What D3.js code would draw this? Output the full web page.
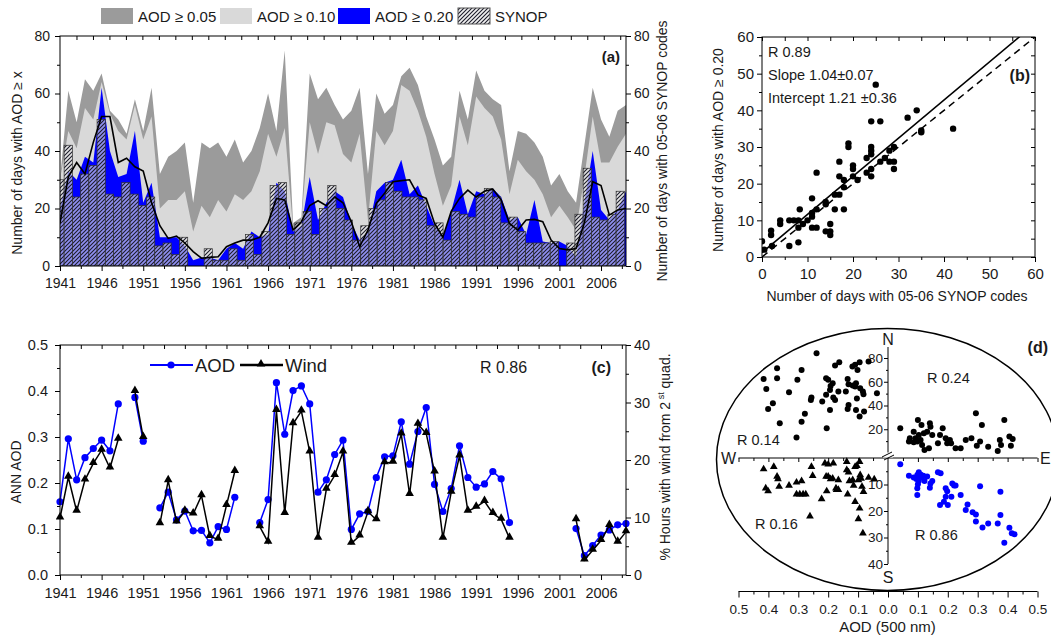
<!DOCTYPE html>
<html>
<head>
<meta charset="utf-8">
<script src="https://cdn.jsdelivr.net/npm/d3@7"></script>
<style>
  body { margin: 0; background: #fff; }
  text { font-family: 'Liberation Sans', Arial, sans-serif; }
</style>
</head>
<body>
<div id="chart"></div>
<script>
// ---------- data ----------
var years = d3.range(1941, 2010);

// panel (a): number of days with AOD >= x, and SYNOP days
var aod005 = [30,61,50,65,61,67,54,51,46,58, 47,62,32,38,40,43,22,43,41,43,
              38,44,36,40,48,60,47,75,15,17, 67,58,62,56,51,54,62,32,60,53,
              56,66,69,63,52,44,35,38,61,51, 68,61,58,56,33,47,46,43,38,28,
              32,26,22,42,62,51,45,54,56];
var aod010 = [30,47,41,55,51,64,53,47,44,56, 44,52,20,23,23,26,12,21,17,23,
              19,25,23,26,33,46,38,48,13,16, 50,39,50,49,39,36,46,16,47,42,
              47,63,61,54,45,32,21,28,52,42, 59,55,52,44,25,37,33,30,25,17,
              21,17,12.5,31,52,36,36,41.5,46];
var aod020 = [20,33,30,38,36,62,40,31,32,47, 22,29,10,10,10,7,2,3,3,2,
              6,8,6,12,10,11,29,26,12,14, 31,16,22,26,24,15,9,12,26,29,
              30,37,25,28,21,14,10,19,30,18, 26,25,27,24,16,17,11,23,8.5,8,
              8.5,7,3,22,40,19.5,16,19.5,26];
var synop  = [30,42,24,32,35,51,25,24,29,25, 21,24,7,8,4,10,0,0,6,2,
              2,6,2,11,4,12,28,29,11,15, 19,11,20,28,20,16,9,14,20,23,
              29,26,24,24,23,14,15,9,19,18, 17,24,27,24,15,17,12,8,8,8,
              8.5,0,8,18,34,17,16,18,26];
var smooth = [15,31,36,32,43,52,52,36,37.5,34.5, 33,22,14,9.6,10.4,8,5,2.7,3,3.2,
              6.7,8,9,9,10,15,23.5,23,12.5,15.4, 21,22.7,21,24,22,15.4,6.7,12.5,21.8,25.3,
              29.3,29.7,30,24.7,23.5,14.8,10,19,23.5,26.4, 24,26,26.7,23,14.8,12.5,16,16.2,15.4,9,
              6.1,5.6,6.1,15,29.3,28,17.7,19.5,20];
var yearTicks = [1941,1946,1951,1956,1961,1966,1971,1976,1981,1986,1991,1996,2001,2006];

// panel (b): scatter SYNOP days vs AOD>=0.20 days
var bx = [0,0.5,2,2,2.2, 4,4,6,6,7, 8,8.3,8,8,9, 10,11,11,11,11, 12,12,12,14,14,
          14,15,15,15,16, 16,17,17,17,18, 18,18,19,19,20, 20,20,21,23,23, 24,24,24,24,24,
          24,25,26,26,27, 28,28,29,29,29, 32,34,35,35,42];
var by = [4.3,2,7.2,6,3, 10,9,3,10,10, 10,13,8,4,9, 10,12,16,11,8, 13,23,8,15,7,
          14.4,7,9,6,17, 13,17,22,26,13, 21,19,31,30,25, 24,22,21,27,23, 37,30,29,28,24,
          22,47,37,26,27, 29,26,30,26,24, 38,40,34,34.5,35];

// panel (c): annual AOD and wind from 2nd quadrant (null = no data)
var annAod = [0.159,0.296,0.207,0.255,0.275,0.293,0.270,0.372,null,0.386,
              0.291,null,0.146,0.180,0.120,0.139,0.096,0.097,0.070,0.105,
              0.099,0.169,null,null,0.114,0.164,0.418,0.306,0.401,0.411,
              0.372,0.180,0.207,0.262,0.293,0.099,0.133,0.138,0.212,0.257,
              0.259,0.333,0.241,0.312,0.364,0.197,0.138,0.188,0.281,0.212,
              0.191,0.198,0.225,0.209,0.114,null,null,null,null,null,
              null,null,0.101,0.042,0.064,0.087,0.098,0.109,0.112];
var wind = [9.9,17,11.1,16.5,19.4,21.7,18.6,23.6,null,31.9,
            23.9,null,8.9,16.4,9.2,11.1,10.6,13.8,6.7,6.2,
            12.1,18,null,null,8.4,5.7,28.6,10.7,26.3,28.5,
            21.4,6.4,14.9,17.3,21.4,5.5,6.8,11,9.6,19.5,
            19.6,24.5,14,26.2,24.6,17.9,6.4,14.4,20.7,11.1,
            11.8,12.8,10.7,9.7,6.4,null,null,null,null,null,
            null,null,9.6,2.6,4.3,6,8.6,5.7,7.5];

// panel (d): quadrant scatters
var nwAod = [0.239,0.416,0.371,0.371,0.407,0.289,0.303,0.331,0.385,0.401,0.362,0.289,0.278,0.306,0.258,
             0.256,0.22,0.207,0.207,0.2,0.192,0.194,0.185,0.183,0.177,0.194,0.205,0.177,0.163,0.166,
             0.141,0.135,0.132,0.132,0.135,0.119,0.11,0.095,0.102,0.107,0.11,0.118,0.104,0.107,0.095,
             0.08,0.093,0.084,0.082,0.065,0.037];
var nwVal = [84,62.4,71.4,63,54,70,61.6,51.2,42,37,25,26.4,33,13,44.7,
             46.7,43.3,49,63,61.6,56.5,53,58.8,46.7,44.7,36.3,20.8,73.7,76.5,51.8,
             51.8,62.4,58,40.5,37,72.9,74.3,76.5,70,58.8,56,56.8,46,36.3,30.7,
             35,54.6,51.8,49.5,77,50.4];
var neAod = [0.041,0.07,0.086,0.1,0.092,0.103,0.098,0.109,0.112,0.114,0.122,0.12,0.131,0.137,0.14,
             0.142,0.148,0.167,0.174,0.183,0.193,0.198,0.207,0.211,0.226,0.243,0.26,0.279,0.294,0.297,
             0.308,0.314,0.335,0.367,0.374,0.378,0.389,0.406,0.417,0.411,0.073,0.086];
var neVal = [20.8,9.6,18,27.8,12.4,15.2,9.6,11,23.6,6.8,2.5,16.6,18,3.9,25,
             22.2,15.2,8.2,15.2,20.8,12.4,8.2,11,8.2,3.9,3.9,11,12.4,33.5,6.2,
             9.6,23.6,5.3,1.7,11,6.8,27.8,13.8,11.8,6.2,12.4,9];
var swAod = [0.416,0.382,0.371,0.368,0.364,0.409,0.401,0.331,0.306,0.289,0.306,0.295,0.284,0.275,0.261,
             0.252,0.256,0.222,0.211,0.207,0.2,0.192,0.185,0.2,0.183,0.205,0.174,0.172,0.166,0.166,
             0.138,0.138,0.132,0.118,0.115,0.135,0.11,0.104,0.095,0.11,0.095,0.099,0.084,0.087,0.082,
             0.09,0.093,0.065,0.046,0.099,0.129];
var swVal = [4.2,3.3,7,7.9,10.8,11.4,12.5,10.4,9.2,8.7,13.7,13.7,13.7,13.7,22,
             6.7,3.3,15.5,2,7,7,7.9,7.7,2.4,2,12.5,11.4,12,12,8.3,
             4.5,1.4,5.4,8.3,10.4,13.7,3.3,2.9,1.4,16.5,19,23,28.4,10.8,12.7,
             7.7,6.4,7.4,8,8.3,8.7];
var seAod = [0.041,0.07,0.086,0.098,0.103,0.109,0.095,0.103,0.111,0.118,0.1,0.098,0.098,0.122,0.131,
             0.142,0.14,0.148,0.167,0.176,0.174,0.187,0.193,0.193,0.198,0.2,0.215,0.221,0.226,0.212,
             0.243,0.26,0.266,0.283,0.294,0.294,0.308,0.316,0.335,0.367,0.376,0.376,0.406,0.414,0.423,0.389];
var seVal = [2.4,6.7,7.4,6.4,5.4,6.2,7.9,8.7,7.4,6.7,9.9,11.4,14,8.7,7,
             9.6,11.2,8.7,5.4,5.8,17.7,16.5,14.6,11.4,12.5,17.7,9.6,10.4,10.4,14.6,
             14,19.6,17.5,20.5,21.3,24,10.7,26.2,24.7,24.7,12.7,21.5,26.3,28.4,28.8,32];

// ---------- setup ----------
var FONT = "'Liberation Sans', Arial, sans-serif";
var BLUE = "#0000ff";
var svg = d3.select("#chart").append("svg")
    .attr("width", 1051)
    .attr("height", 635);
var defs = svg.append("defs");

var pat = defs.append("pattern")
    .attr("id", "hatch")
    .attr("patternUnits", "userSpaceOnUse")
    .attr("width", 4)
    .attr("height", 4);
pat.append("rect").attr("width", 4).attr("height", 4)
    .attr("fill", "#e6e6e6").attr("fill-opacity", 0.62);
pat.append("path").attr("d", "M-1,1 l2,-2 M0,4 l4,-4 M3,5 l2,-2")
    .attr("stroke", "#1c1c2a").attr("stroke-width", 1.1);

function clip(id, x, y, w, h) {
    defs.append("clipPath").attr("id", id)
        .append("rect").attr("x", x).attr("y", y).attr("width", w).attr("height", h);
}

// axis helper: draws ticks (and labels) without the domain line
function axis(gen, scale, vals, size, fmt, pad, fs, tr) {
    var a = gen(scale).tickValues(vals).tickSize(size).tickSizeOuter(0)
        .tickPadding(pad || 3)
        .tickFormat(fmt || function() { return ""; });
    var g = svg.append("g").attr("transform", tr).call(a);
    g.select(".domain").remove();
    g.selectAll("line").attr("stroke", "#000");
    g.selectAll("text").attr("font-size", fs || 14).attr("font-family", FONT).attr("fill", "#1a1a1a");
    return g;
}
function halves(list) {
    return list.map(function(d) { return d + 2.5; });
}
function frame(x0, y0, x1, y1) {
    svg.append("rect").attr("x", x0).attr("y", y0)
        .attr("width", x1 - x0).attr("height", y1 - y0)
        .attr("fill", "none").attr("stroke", "#000").attr("stroke-width", 1);
}
function label(x, y, txt, opts) {
    opts = opts || {};
    var t = svg.append("text")
        .attr("x", x).attr("y", y)
        .attr("font-size", opts.size || 14)
        .attr("fill", "#1a1a1a")
        .attr("text-anchor", opts.anchor || "start")
        .text(txt);
    if (opts.bold) t.attr("font-weight", "bold");
    if (opts.rotate) t.attr("transform", "rotate(-90," + x + "," + y + ")");
    return t;
}

// ---------- panel (a) ----------
var xa = d3.scaleLinear().domain([1941, 2009]).range([60, 626]);
var xs = d3.scaleLinear().domain([1941, 2009.7]).range([60, 626]);   // SYNOP layer
var ya = d3.scaleLinear().domain([0, 80]).range([266, 36]);
clip("clip-a", 60, 36, 566, 230);

var ga = svg.append("g").attr("clip-path", "url(#clip-a)");
function areaOf(vals) {
    return d3.area()
        .x(function(d, i) { return xa(years[i]); })
        .y0(ya(0))
        .y1(function(d) { return ya(d); })(vals);
}
ga.append("path").attr("d", areaOf(aod005)).attr("fill", "#9b9b9b");
ga.append("path").attr("d", areaOf(aod010)).attr("fill", "#d9d9d9");
ga.append("path").attr("d", areaOf(aod020)).attr("fill", BLUE);

var bw = xs(1942) - xs(1941);
ga.selectAll("rect.syn")
    .data(synop)
    .join("rect")
        .attr("class", "syn")
        .attr("x", function(d, i) { return xs(years[i]) - bw / 2; })
        .attr("y", function(d) { return ya(d); })
        .attr("width", bw)
        .attr("height", function(d) { return ya(0) - ya(d); })
        .attr("fill", "url(#hatch)")
        .attr("stroke", "#333")
        .attr("stroke-width", 0.7);

ga.append("path")
    .attr("d", d3.line().x(function(d, i) { return xa(years[i]); }).y(function(d) { return ya(d); })(smooth))
    .attr("fill", "none").attr("stroke", "#000").attr("stroke-width", 1.6);

frame(60, 36, 626, 266);
axis(d3.axisBottom, xa, yearTicks, 5, d3.format("d"), 7, 14, "translate(0,266)");
axis(d3.axisBottom, xa, halves(yearTicks), 3, null, 3, 14, "translate(0,266)");
axis(d3.axisBottom, xs, d3.range(1943, 2010, 2), 4, null, 3, 14, "translate(0,36)");
axis(d3.axisLeft, ya, [0, 20, 40, 60, 80], 5, d3.format("d"), 5, 14, "translate(60,0)");
axis(d3.axisLeft, ya, [10, 30, 50, 70], 3, null, 3, 14, "translate(60,0)");
axis(d3.axisRight, ya, [0, 20, 40, 60, 80], 5, d3.format("d"), 3, 14, "translate(626,0)");
axis(d3.axisRight, ya, [10, 30, 50, 70], 3, null, 3, 14, "translate(626,0)");

label(22, 163, "Number of days with AOD \u2265 x", {rotate: true, anchor: "middle"});
label(667, 151, "Number of days with 05-06 SYNOP codes", {rotate: true, anchor: "middle"});
label(620, 62, "(a)", {bold: true, anchor: "end", size: 15});

// legend (a)
var legA = [
    {name: "AOD \u2265 0.05", fill: "#9b9b9b", x: 101},
    {name: "AOD \u2265 0.10", fill: "#d9d9d9", x: 220},
    {name: "AOD \u2265 0.20", fill: BLUE, x: 338},
    {name: "SYNOP", fill: "url(#hatch)", x: 458}
];
legA.forEach(function(item) {
    svg.append("rect")
        .attr("x", item.x).attr("y", 8).attr("width", 32).attr("height", 16)
        .attr("fill", item.fill)
        .attr("stroke", item.name == "SYNOP" ? "#555" : "none");
    label(item.x + 37, 22, item.name, {size: 15});
});

// ---------- panel (b) ----------
var xb = d3.scaleLinear().domain([0, 60]).range([762, 1035]);
var yb = d3.scaleLinear().domain([0, 60]).range([257, 37]);
clip("clip-b", 762, 37, 273, 220);
var gb = svg.append("g").attr("clip-path", "url(#clip-b)");

gb.append("line")
    .attr("x1", xb(0)).attr("y1", yb(1.21))
    .attr("x2", xb(60)).attr("y2", yb(1.21 + 1.04 * 60))
    .attr("stroke", "#000").attr("stroke-width", 1.5);
gb.append("line")
    .attr("x1", xb(0)).attr("y1", yb(0))
    .attr("x2", xb(60)).attr("y2", yb(60))
    .attr("stroke", "#000").attr("stroke-width", 1.5)
    .attr("stroke-dasharray", "7,5");
gb.selectAll("circle")
    .data(bx)
    .join("circle")
        .attr("cx", function(d) { return xb(d); })
        .attr("cy", function(d, i) { return yb(by[i]); })
        .attr("r", 3.2)
        .attr("fill", "#000");

frame(762, 37, 1035, 257);
var bTicks = [0, 10, 20, 30, 40, 50, 60];
var bMinor = [5, 15, 25, 35, 45, 55];
axis(d3.axisBottom, xb, bTicks, 5, d3.format("d"), 6, 15, "translate(0,257)");
axis(d3.axisBottom, xb, bMinor, 3, null, 3, 15, "translate(0,257)");
axis(d3.axisBottom, xb, bTicks.concat(bMinor), 4, null, 3, 15, "translate(0,37)");
axis(d3.axisLeft, yb, bTicks, 5, d3.format("d"), 3, 15, "translate(762,0)");
axis(d3.axisLeft, yb, bMinor, 3, null, 3, 15, "translate(762,0)");
axis(d3.axisLeft, yb, bTicks.concat(bMinor), 4, null, 3, 15, "translate(1035,0)");

label(723, 150, "Number of days with AOD  \u2265 0.20", {rotate: true, anchor: "middle"});
label(897, 301, "Number of days with 05-06 SYNOP codes", {anchor: "middle"});
label(768, 57, "R 0.89", {size: 14.5});
label(768, 80, "Slope 1.04\u00b10.07", {size: 14.5});
label(768, 103, "Intercept 1.21 \u00b10.36", {size: 14.5});
label(1030, 81, "(b)", {bold: true, anchor: "end", size: 16});

// ---------- panel (c) ----------
var yc = d3.scaleLinear().domain([0, 0.5]).range([575, 345]);
var ycr = d3.scaleLinear().domain([0, 40]).range([575, 345]);
clip("clip-c", 56, 340, 574, 240);
var gc = svg.append("g").attr("clip-path", "url(#clip-c)");

function lineOf(scale) {
    return d3.line()
        .defined(function(d) { return d != null; })
        .x(function(d, i) { return xa(years[i]); })
        .y(function(d) { return scale(d); });
}
var tri = d3.symbol().type(d3.symbolTriangle).size(32);

gc.append("path").attr("d", lineOf(yc)(annAod))
    .attr("fill", "none").attr("stroke", BLUE).attr("stroke-width", 1.5);
gc.selectAll("circle.aod")
    .data(annAod.map(function(v, i) { return {year: years[i], v: v}; }).filter(function(d) { return d.v != null; }))
    .join("circle")
        .attr("class", "aod")
        .attr("cx", function(d) { return xa(d.year); })
        .attr("cy", function(d) { return yc(d.v); })
        .attr("r", 3.6)
        .attr("fill", BLUE);

gc.append("path").attr("d", lineOf(ycr)(wind))
    .attr("fill", "none").attr("stroke", "#000").attr("stroke-width", 1.5);
gc.selectAll("path.wind")
    .data(wind.map(function(v, i) { return {year: years[i], v: v}; }).filter(function(d) { return d.v != null; }))
    .join("path")
        .attr("class", "wind")
        .attr("d", tri)
        .attr("transform", function(d) { return "translate(" + xa(d.year) + "," + (ycr(d.v) - 1) + ")"; })
        .attr("fill", "#000");

frame(60, 345, 626, 575);
axis(d3.axisBottom, xa, yearTicks, 5, d3.format("d"), 8, 14.5, "translate(0,575)");
axis(d3.axisBottom, xa, halves(yearTicks), 3, null, 3, 14, "translate(0,575)");
axis(d3.axisBottom, xa, yearTicks.concat(halves(yearTicks)), 4, null, 3, 14, "translate(0,345)");
axis(d3.axisLeft, yc, [0, 0.1, 0.2, 0.3, 0.4, 0.5], 5, d3.format(".1f"), 7, 14.5, "translate(60,0)");
axis(d3.axisLeft, yc, [0.05, 0.15, 0.25, 0.35, 0.45], 3, null, 3, 14, "translate(60,0)");
axis(d3.axisRight, ycr, [0, 10, 20, 30, 40], 5, d3.format("d"), 3, 14.5, "translate(626,0)");
axis(d3.axisRight, ycr, [5, 15, 25, 35], 3, null, 3, 14, "translate(626,0)");

label(21, 472, "ANN AOD", {rotate: true, anchor: "middle"});
var rl = label(670, 457, "% Hours with wind from 2", {rotate: true, anchor: "middle"});
rl.append("tspan").attr("font-size", 9).attr("dy", -6).text(" st");
rl.append("tspan").attr("dy", 6).text(" quad.");
label(480, 373, "R 0.86", {size: 16});
label(611, 373, "(c)", {bold: true, anchor: "end", size: 16});

// legend (c)
svg.append("line").attr("x1", 150).attr("x2", 193).attr("y1", 365).attr("y2", 365)
    .attr("stroke", BLUE).attr("stroke-width", 2);
svg.append("circle").attr("cx", 171).attr("cy", 365).attr("r", 3.6).attr("fill", BLUE);
label(195, 372, "AOD", {size: 18.5});
svg.append("line").attr("x1", 240).attr("x2", 283).attr("y1", 365).attr("y2", 365)
    .attr("stroke", "#000").attr("stroke-width", 2.5);
svg.append("path").attr("d", tri).attr("transform", "translate(261,364)").attr("fill", "#000");
label(285, 372, "Wind", {size: 18.5});

// ---------- panel (d) ----------
var xdR = d3.scaleLinear().domain([0, 0.5]).range([888, 1037.5]);
var xdL = d3.scaleLinear().domain([0, 0.5]).range([888, 738.5]);
var ydN = d3.scaleLinear().domain([0, 80]).range([453, 358]);
var ydS = d3.scaleLinear().domain([0, 40]).range([458, 564]);

svg.append("ellipse")
    .attr("cx", 887.5).attr("cy", 459.5).attr("rx", 171).attr("ry", 131)
    .attr("fill", "none").attr("stroke", "#000").attr("stroke-width", 1.5);

// W-E axis and vertical N / S axes
svg.append("line").attr("x1", 738.5).attr("x2", 1037.5).attr("y1", 458).attr("y2", 458)
    .attr("stroke", "#000");
svg.append("line").attr("x1", 888).attr("x2", 888).attr("y1", 453).attr("y2", 347)
    .attr("stroke", "#000");
svg.append("line").attr("x1", 888).attr("x2", 888).attr("y1", 458).attr("y2", 564)
    .attr("stroke", "#000");
var dTicks = [0.1, 0.2, 0.3, 0.4, 0.5];
var dMinor = [0.05, 0.15, 0.25, 0.35, 0.45];
axis(d3.axisBottom, xdR, dTicks, 4, null, 3, 12, "translate(0,458)");
axis(d3.axisBottom, xdR, dMinor, 3, null, 3, 12, "translate(0,458)");
axis(d3.axisBottom, xdL, dTicks, 4, null, 3, 12, "translate(0,458)");
axis(d3.axisBottom, xdL, dMinor, 3, null, 3, 12, "translate(0,458)");
axis(d3.axisLeft, ydN, [20, 40, 60, 80], 4, d3.format("d"), 1, 13.5, "translate(888,0)");
axis(d3.axisLeft, ydN, [10, 30, 50, 70], 2, null, 1, 13, "translate(888,0)");
axis(d3.axisLeft, ydS, [10, 20, 30, 40], 4, d3.format("d"), 1, 13.5, "translate(888,0)");
axis(d3.axisLeft, ydS, [5, 15, 25, 35], 2, null, 1, 13, "translate(888,0)");

// axis break mark at the origin
svg.append("rect").attr("x", 883).attr("y", 452.5).attr("width", 10).attr("height", 5).attr("fill", "#fff");
svg.append("path").attr("d", "M882,457 L892,452 M884,460 L894,455")
    .attr("stroke", "#000").attr("stroke-width", 1);

// bottom AOD axis
svg.append("line").attr("x1", 738.5).attr("x2", 1037.5).attr("y1", 591.5).attr("y2", 591.5)
    .attr("stroke", "#000");
axis(d3.axisBottom, xdR, [0].concat(dTicks), 6, d3.format(".1f"), 7, 13.5, "translate(0,591.5)");
axis(d3.axisBottom, xdL, dTicks, 6, d3.format(".1f"), 7, 13.5, "translate(0,591.5)");
axis(d3.axisBottom, xdR, dMinor, 3, null, 3, 12, "translate(0,591.5)");
axis(d3.axisBottom, xdL, dMinor, 3, null, 3, 12, "translate(0,591.5)");
label(887.5, 632, "AOD (500 nm)", {anchor: "middle", size: 15});

label(888, 345, "N", {anchor: "middle", size: 16});
label(888, 583, "S", {anchor: "middle", size: 16});
label(721, 464, "W", {size: 16});
label(1040, 464, "E", {size: 16});

function dots(cls, aods, vals, xsc, ysc, color) {
    svg.selectAll("circle." + cls)
        .data(aods)
        .join("circle")
            .attr("class", cls)
            .attr("cx", function(d) { return xsc(d); })
            .attr("cy", function(d, i) { return ysc(vals[i]); })
            .attr("r", 3)
            .attr("fill", color);
}
dots("nw", nwAod, nwVal, xdL, ydN, "#000");
dots("ne", neAod, neVal, xdR, ydN, "#000");
dots("se", seAod, seVal, xdR, ydS, BLUE);
var triD = d3.symbol().type(d3.symbolTriangle).size(26);
svg.selectAll("path.sw")
    .data(swAod)
    .join("path")
        .attr("class", "sw")
        .attr("d", triD)
        .attr("transform", function(d, i) { return "translate(" + xdL(d) + "," + ydS(swVal[i]) + ")"; })
        .attr("fill", "#000");

label(927, 383, "R 0.24", {size: 14.5});
label(737, 445, "R 0.14", {size: 14.5});
label(755, 529, "R 0.16", {size: 14.5});
label(915, 540, "R 0.86", {size: 14.5});
label(1048, 353, "(d)", {bold: true, anchor: "end", size: 16});
</script>
</body>
</html>
